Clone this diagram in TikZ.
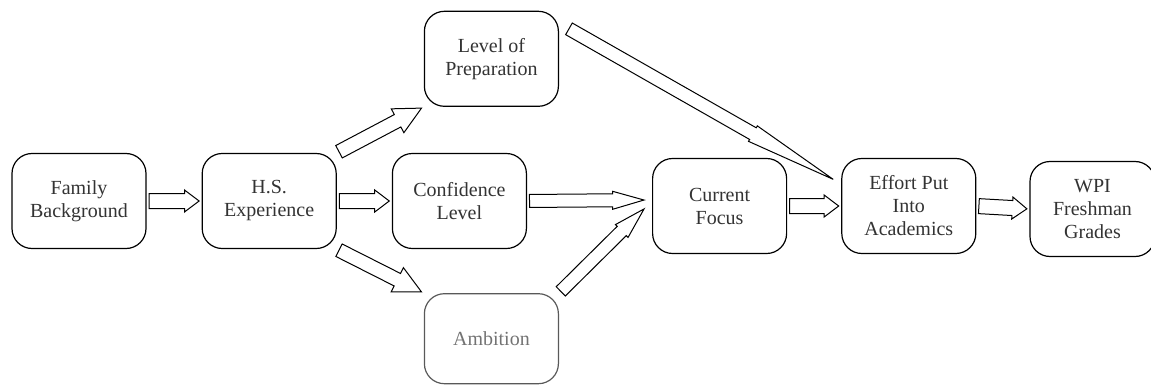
\documentclass[tikz,border=0pt]{standalone}
\usepackage{fontspec}
\setmainfont{Liberation Serif}
\usetikzlibrary{shapes.arrows, positioning, calc}
\tikzstyle{factor} = [rectangle, rounded corners=10pt, minimum width=67pt, minimum height=47.5pt, text centered, align=center, draw=black, line width=0.6pt, font=\fontsize{10}{11.5}\selectfont, text=black!80]
\tikzstyle{faint} = [draw=black!65, text=black!55]
\tikzstyle{hollow} = [single arrow, draw=black, line width=0.5pt, inner xsep=0pt, inner ysep=3.5pt, outer sep=0pt, minimum width=0pt, single arrow head extend=1.75pt, single arrow tip angle=74]
\tikzstyle{wide} = [inner ysep=3.25pt, single arrow head extend=3.25pt, single arrow tip angle=53]
\tikzstyle{slim} = [inner ysep=3pt, single arrow head extend=1.25pt, single arrow tip angle=32]
\tikzstyle{needle} = [inner ysep=3.1pt, single arrow head extend=1.1pt, single arrow tip angle=11]
\tikzset{fat/.style={to path={let \p1=(\tikztostart), \p2=(\tikztotarget), \n1={atan2(\y2-\y1,\x2-\x1)}, \n2={veclen(\x2-\x1,\y2-\y1)} in ($(\p1)!1.25pt!(\p2)$) node[hollow, #1, anchor=tail, rotate=\n1, minimum height=\n2-2.5pt] {} (\tikztotarget)}}, fat/.default={}}

\begin{document}
\begin{tikzpicture}[node distance=27.5pt]
\useasboundingbox (0,0) rectangle (575.5pt,-192.5pt);

\node (family) [factor] at (39.5pt,-100.5pt) {Family\\Background};
\node (hs) [factor, right=of family] {H.S.\\Experience};
\node (confid) [factor, right=of hs] {Confidence\\Level};
\node (prep) [factor, above right=23pt and 43.5pt of hs] {Level of\\Preparation};
\node (ambition) [factor, faint, minimum height=45pt, below right=22pt and 43.5pt of hs] {Ambition};
\node (focus) [factor, right=62.5pt of confid, yshift=-2.5pt] {Current\\Focus};
\node (effort) [factor, right=27pt of focus] {Effort Put\\Into\\Academics};
\node (grades) [factor, minimum width=62.5pt, right=26.5pt of effort, yshift=-1.5pt] {WPI\\Freshman\\Grades};

\coordinate (fin1) at ([shift={(-2.75pt,3pt)}]focus.west);
\coordinate (fin2) at ([shift={(-3pt,-0.5pt)}]focus.west);
\coordinate (pout) at ([shift={(3.9pt,15.6pt)}]prep.east);
\coordinate (ein) at ([shift={(-2.9pt,-11.35pt)}]effort.north west);

\draw [fat] (family.east) to (hs.west);
\draw [fat] (hs.east) to (confid.west);
\draw [fat=wide] (hs.north east) to (prep.south west);
\draw [fat=wide] (hs.south east) to (ambition.north west);

\draw [fat=slim] (confid.east) to (fin1);
\draw [fat=slim] (ambition.north east) to (fin2);
\draw [fat=needle] (pout) to (ein);

\draw [fat] (focus.east) to (effort.west);
\draw [fat] (effort.east) to (grades.west);
\end{tikzpicture}
\end{document}
